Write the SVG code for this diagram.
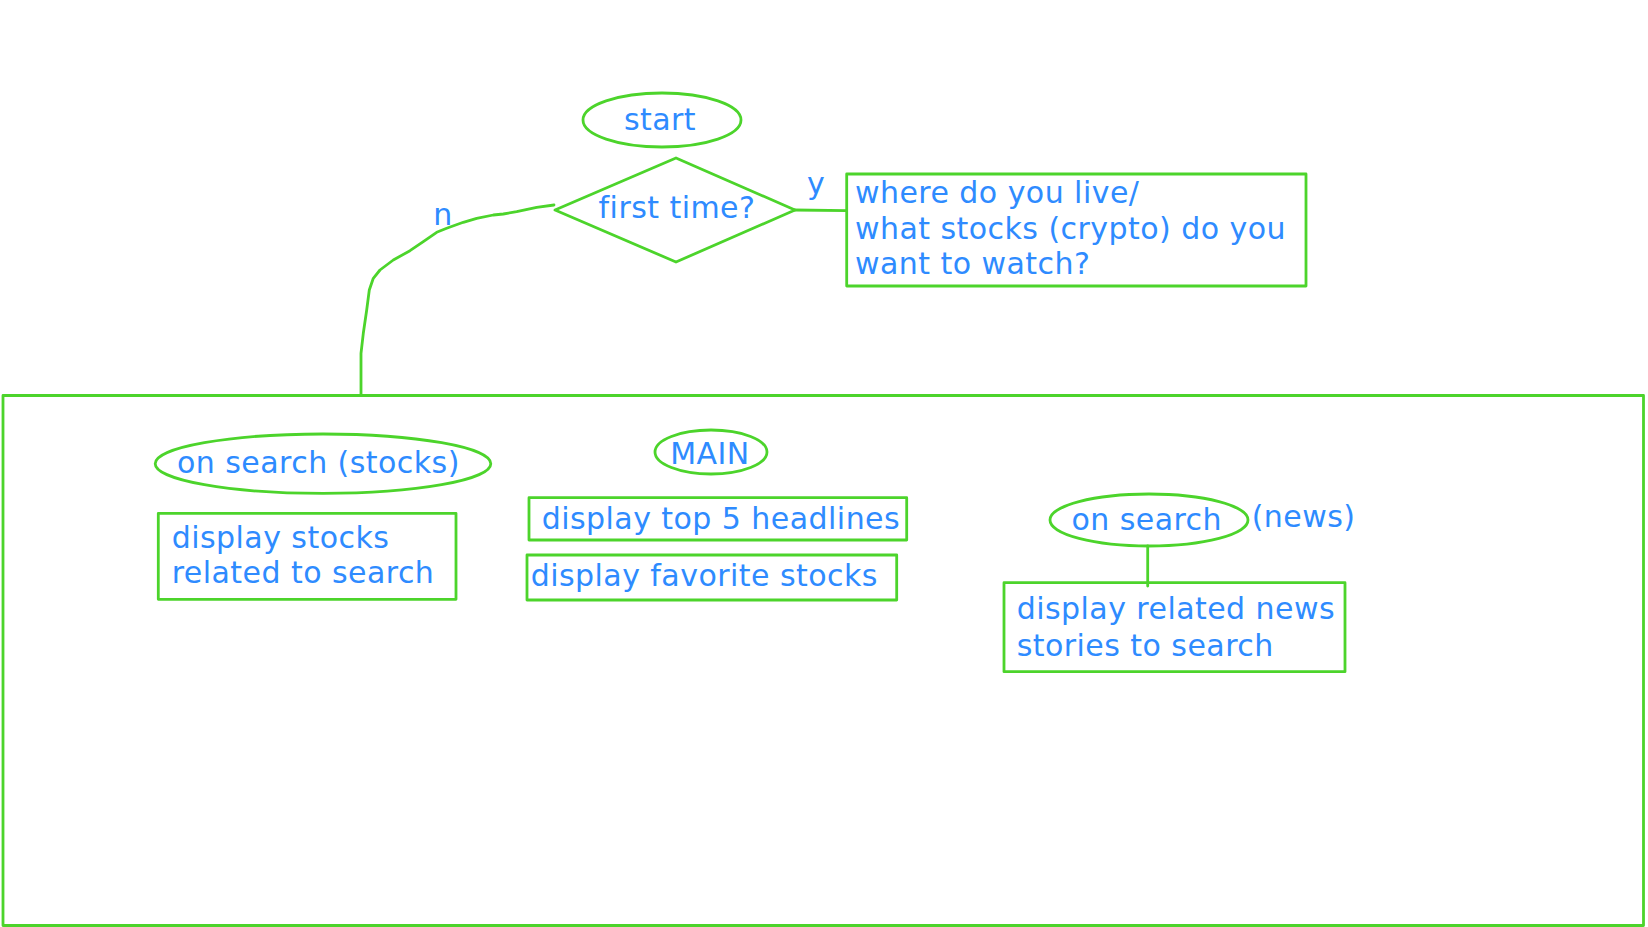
<svg xmlns="http://www.w3.org/2000/svg" width="1648" height="927" viewBox="0 0 1648 927">
<style>
.s{fill:none;stroke:#4cd42b;stroke-width:2.8;stroke-linejoin:round;stroke-linecap:round}
.t{font-family:"DejaVu Sans","Verdana",sans-serif;font-size:30px;fill:#2e8bff;letter-spacing:0.45px}
.c{text-anchor:middle}
</style>
<rect width="1648" height="927" fill="#ffffff"/>
<g id="connectors">
<path class="s" d="M554,205 L536.7,207.3 L516.7,211.7 L503.3,214 L493.3,215 L476.7,218.3 L463.3,222.3 L446.7,228.3 L436.7,232.3 L423.3,241.7 L410,250.7 L393.3,260 L380,270 L373.3,278.3 L369.3,290 L366.7,310 L363.3,333.3 L361,353.3 L361,395.5"/>
<path class="s" d="M794,210 L846.7,210.7"/>
<path class="s" d="M1147.7,546 L1147.7,586"/>
<text class="t c" x="443" y="225">n</text>
<text class="t c" x="816" y="194">y</text>
</g>
<g id="container">
<rect class="s" x="3" y="395.5" width="1640.5" height="530"/>
</g>
<g id="start">
<ellipse class="s" cx="662" cy="120" rx="79" ry="27"/>
<text class="t c" x="660" y="130">start</text>
</g>
<g id="first-time">
<polygon class="s" points="676,158 795,210 676,262 555,210"/>
<text class="t c" x="677" y="218">first time?</text>
</g>
<g id="where-live">
<rect class="s" x="846.7" y="174" width="459.3" height="112"/>
<text class="t" x="855" y="203">where do you live/</text>
<text class="t" x="855" y="238.5">what stocks (crypto) do you</text>
<text class="t" x="855" y="273.5">want to watch?</text>
</g>
<g id="on-search-stocks">
<ellipse class="s" cx="323" cy="463.7" rx="167.8" ry="29.7"/>
<text class="t" x="177" y="472.7">on search (stocks)</text>
</g>
<g id="display-stocks">
<rect class="s" x="158.3" y="513.3" width="297.7" height="86"/>
<text class="t" x="171.7" y="547.7">display stocks</text>
<text class="t" x="171.7" y="583.3">related to search</text>
</g>
<g id="main">
<ellipse class="s" cx="711" cy="452" rx="56" ry="22"/>
<text class="t c" x="710" y="464">MAIN</text>
</g>
<g id="top-headlines">
<rect class="s" x="529" y="497.7" width="377.7" height="42.3"/>
<text class="t" x="541.7" y="529">display top 5 headlines</text>
</g>
<g id="favorite-stocks">
<rect class="s" x="527" y="555" width="369.7" height="45"/>
<text class="t" x="530.7" y="585.7">display favorite stocks</text>
</g>
<g id="on-search-news">
<ellipse class="s" cx="1149" cy="520" rx="99" ry="26"/>
<text class="t c" x="1146.7" y="530">on search</text>
<text class="t" x="1251.7" y="526.7">(news)</text>
</g>
<g id="related-news">
<rect class="s" x="1004" y="582.7" width="341" height="89"/>
<text class="t" x="1016.7" y="619.3">display related news</text>
<text class="t" x="1016.7" y="655.5">stories to search</text>
</g>
</svg>
